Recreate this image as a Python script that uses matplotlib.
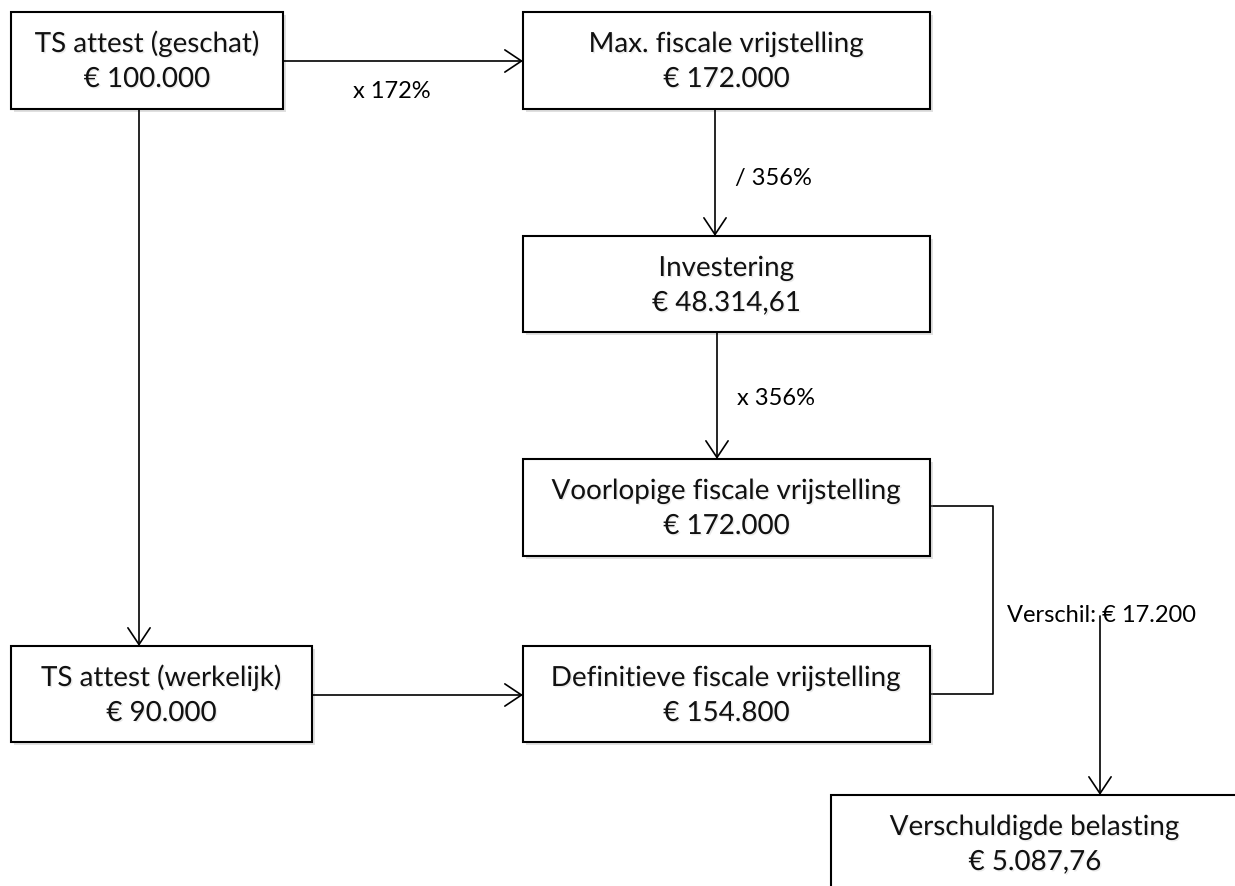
import matplotlib
matplotlib.use('Agg')
import matplotlib.pyplot as plt
import matplotlib.patheffects as pe
from matplotlib.patches import Rectangle

# Data: node texts and edge labels
titles = ['TS attest (geschat)', 'Max. fiscale vrijstelling', 'Investering',
          'Voorlopige fiscale vrijstelling', 'TS attest (werkelijk)',
          'Definitieve fiscale vrijstelling', 'Verschuldigde belasting']
amounts = ['€ 100.000', '€ 172.000', '€ 48.314,61', '€ 172.000',
           '€ 90.000', '€ 154.800', '€ 5.087,76']
edge_labels = ['x 172%', '/ 356%', 'x 356%', '', '', 'Verschil: € 17.200']

# Layout in pixels (x0, y0, x1, y1), y grows downward
box_pos = [(11, 13, 283, 110), (523, 13, 930, 110), (523, 237, 930, 333),
           (523, 460, 930, 557), (11, 647, 312, 743), (523, 647, 930, 743),
           (831, 796, 1239, 905)]
arrow_pos = [((283, 62), (523, 62)), ((715, 110), (715, 237)),
             ((717, 333), (717, 460)), ((139, 110), (139, 647)),
             ((312, 696), (523, 696)), ((1100, 617), (1100, 796))]
# label anchor: x, baseline y, alignment
label_pos = [(392, 98, 'center'), (735, 185, 'left'), (737, 405, 'left'),
             None, None, (1007, 622, 'left')]
bracket = [(930, 507), (993, 507), (993, 695), (930, 695)]

plt.rcParams['font.family'] = ['Lato', 'DejaVu Sans']

fig = plt.figure(figsize=(12.35, 8.87), dpi=100)
ax = fig.add_axes([0, 0, 1, 1])
ax.set_xlim(0, 1235)
ax.set_ylim(887, 0)
ax.axis('off')

box_shadow = [pe.SimplePatchShadow(offset=(2, -2), shadow_rgbFace='#999999', alpha=0.3), pe.Normal()]
txt_shadow = [pe.SimplePatchShadow(offset=(1.0, -1.0), shadow_rgbFace='#bbbbbb', alpha=0.3), pe.Normal()]

for (x0, y0, x1, y1), t, a in zip(box_pos, titles, amounts):
    r = Rectangle((x0, y0), x1 - x0, y1 - y0, facecolor='white', edgecolor='black',
                  lw=1.5, zorder=2, clip_on=False)
    r.set_path_effects(box_shadow)
    ax.add_patch(r)
    cx = (x0 + x1) / 2
    ax.text(cx, y0 + 40, t, ha='center', va='baseline', fontsize=20, zorder=3,
            color='#111111', path_effects=txt_shadow)
    ax.text(cx, y0 + 75, a, ha='center', va='baseline', fontsize=20, zorder=3,
            color='#111111', path_effects=txt_shadow)

for (start, end), lab, lp in zip(arrow_pos, edge_labels, label_pos):
    ax.annotate('', xy=end, xytext=start,
                arrowprops=dict(arrowstyle='->,head_length=0.6,head_width=0.4',
                                mutation_scale=20, lw=1.2, color='black',
                                shrinkA=0, shrinkB=0), zorder=4)
    if lp:
        ax.text(lp[0], lp[1], lab, ha=lp[2], va='baseline', fontsize=17, zorder=5)

bx = [p[0] for p in bracket]
by = [p[1] for p in bracket]
ax.plot(bx, by, color='black', lw=1.2, zorder=1)

plt.savefig('out.png', dpi=100)
